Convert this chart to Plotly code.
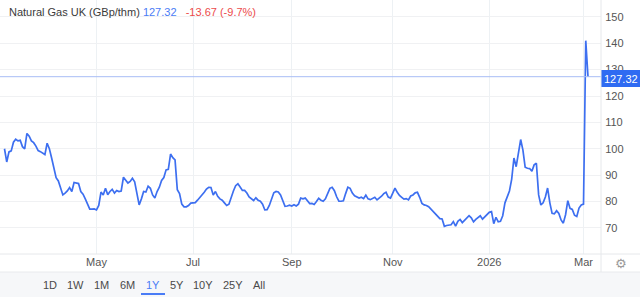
import pandas as pd
import plotly.graph_objects as go

# ---------------- data ----------------
prices = [
    100.0, 95.0, 98.8, 99.2, 102.5, 103.6, 103.0, 103.2, 100.8, 100.0,
    105.8, 104.8, 103.0, 102.3, 101.0, 99.3, 98.9, 98.5, 97.8, 102.1,
    100.0, 96.5, 92.0, 89.0, 87.8, 85.5, 82.5, 83.2, 84.0, 85.3,
    83.8, 87.2, 87.0, 86.8, 83.8, 82.8, 81.0, 78.8, 77.1, 77.1,
    77.2, 76.8, 78.5, 83.6, 82.5, 85.0, 82.6, 83.8, 84.6, 83.2,
    84.2, 83.8, 84.0, 89.2, 88.0, 87.0, 87.6, 88.8, 87.5, 83.0,
    78.7, 81.0, 83.8, 83.6, 85.8, 85.0, 82.5, 81.3, 83.8, 85.4,
    88.0, 89.1, 92.0, 92.2, 98.0, 96.6, 95.8, 84.5, 83.0, 79.0,
    78.0, 78.0, 78.5, 79.4, 79.5, 79.6, 80.5, 81.5, 82.1, 83.5,
    84.7, 85.4, 85.3, 82.5, 83.8, 82.0, 81.0, 80.5, 79.5, 78.5,
    79.0, 81.8, 84.0, 86.0, 86.7, 85.5, 84.2, 84.2, 83.2, 81.7,
    81.1, 80.4, 81.4, 80.5, 80.1, 79.0, 76.8, 76.9, 78.5, 81.0,
    83.3, 83.8, 83.6, 82.5, 80.3, 78.2, 78.3, 78.6, 78.3, 78.8,
    78.3, 79.0, 81.3, 81.0, 81.3, 80.3, 79.2, 79.3, 78.9, 80.0,
    81.2, 80.5, 80.1, 81.0, 83.0, 85.0, 85.4, 84.1, 81.8, 80.1,
    80.1, 80.3, 83.0, 85.4, 85.0, 83.2, 82.2, 81.6, 81.3, 81.6,
    81.1, 82.4, 81.0, 80.7, 81.1, 81.6, 80.6, 81.2, 82.0, 83.0,
    83.5, 81.7, 81.3, 83.2, 85.1, 83.5, 82.3, 81.6, 80.9, 81.1,
    80.6, 82.1, 82.5, 83.3, 83.5, 81.6, 79.3, 78.7, 78.5, 78.0,
    77.1, 76.3, 75.2, 74.1, 73.5, 73.4, 70.6, 70.9, 71.2, 71.2,
    72.4, 70.7, 72.5, 73.2, 72.0, 72.8, 73.5, 74.6, 73.8, 72.3,
    73.2, 74.0, 74.6, 73.3, 74.1, 75.2, 75.9, 76.2, 71.6, 74.0,
    72.3, 72.5, 74.6, 79.5, 82.2, 84.0, 88.5, 96.5, 93.2, 97.8,
    103.5, 99.5, 93.0, 92.6, 92.5, 91.5, 93.9, 94.5, 82.5, 78.7,
    79.5, 81.7, 85.1, 79.5, 75.5, 75.3, 76.5, 75.5, 73.0, 71.8,
    75.0, 80.3, 77.4, 77.0, 74.8, 74.3, 77.5, 78.7, 79.0, 140.99,
    127.32,
]
start_date = "2025-03-05"
dates = pd.bdate_range(start=start_date, periods=len(prices))

x_tick_vals = ["2025-05-01", "2025-07-01", "2025-09-01", "2025-11-03", "2026-01-01", "2026-03-02"]
x_tick_text = ["May", "Jul", "Sep", "Nov", "2026", "Mar"]
y_tick_vals = [70, 80, 90, 100, 110, 120, 130, 140, 150]
range_buttons = ["1D", "1W", "1M", "6M", "1Y", "5Y", "10Y", "25Y", "All"]
active_button = "1Y"
title_text = "Natural Gas UK (GBp/thm)"

last = prices[-1]
chg = last - prices[-2]
pct = chg / prices[-2] * 100

# ---------------- style ----------------
W, H = 640, 297
ML, MR, MT, MB = 0, 39, 0, 43
PW, PH = W - ML - MR, H - MT - MB
BLUE = "#3d6ff0"
FONT = "Liberation Sans, Arial, sans-serif"


def px(xp):
    return (xp - ML) / PW


def py(yp):
    return (H - MB - yp) / PH


fig = go.Figure()
fig.add_trace(go.Scatter(
    x=dates, y=prices, mode="lines",
    line=dict(color=BLUE, width=1.7), hoverinfo="skip",
))

shapes = []
# last price line
shapes.append(dict(type="line", xref="paper", yref="y", x0=0, x1=1, y0=last, y1=last,
                   line=dict(color="#a8bdf5", width=1)))
# price label box
shapes.append(dict(type="rect", xref="paper", yref="paper", x0=1, x1=px(W),
                   y0=py(87), y1=py(70), fillcolor="#2f6bf2", line=dict(width=0)))
# bottom band
shapes.append(dict(type="rect", xref="paper", yref="paper", x0=px(0), x1=px(W),
                   y0=py(H), y1=py(272), fillcolor="#f6f7f9", line=dict(width=0), layer="below"))
shapes.append(dict(type="line", xref="paper", yref="paper", x0=px(0), x1=px(W),
                   y0=py(272), y1=py(272), line=dict(color="#e8eaed", width=1)))
# x axis line
shapes.append(dict(type="line", xref="paper", yref="paper", x0=px(0), x1=px(W),
                   y0=0, y1=0, line=dict(color="#e6e8eb", width=1)))
# right separator
shapes.append(dict(type="line", xref="paper", yref="paper", x0=1, x1=1,
                   y0=py(272), y1=1, line=dict(color="#e6e8eb", width=1)))
# active button underline
shapes.append(dict(type="line", xref="paper", yref="paper", x0=px(141), x1=px(165),
                   y0=py(294), y1=py(294), line=dict(color="#4a7cf6", width=2)))

annotations = []
annotations.append(dict(
    xref="paper", yref="paper", x=px(7), y=py(12), xanchor="left", yanchor="middle",
    showarrow=False, font=dict(family=FONT, size=11, color="#3a3a3a"),
    text=(f"{title_text} <span style='color:#4a7cf6'>{last:.2f}</span>"
          f"   <span style='color:#ec4b4b'>{chg:.2f} ({pct:.1f}%)</span>"),
))
annotations.append(dict(
    xref="paper", yref="paper", x=(1 + px(W)) / 2, y=py(78.5), xanchor="center", yanchor="middle",
    showarrow=False, font=dict(family=FONT, size=11, color="white"), text=f"{last:.2f}",
))
annotations.append(dict(
    xref="paper", yref="paper", x=px(621), y=py(263), xanchor="center", yanchor="middle",
    showarrow=False, font=dict(family="DejaVu Sans", size=13, color="#9a9a9a"), text="\u2699",
))
button_x = [50, 75, 102, 127, 153, 177, 203, 233, 259]
for bx, lab in zip(button_x, range_buttons):
    annotations.append(dict(
        xref="paper", yref="paper", x=px(bx), y=py(285), xanchor="center", yanchor="middle",
        showarrow=False,
        font=dict(family=FONT, size=11, color="#4a7cf6" if lab == active_button else "#4a4a4a"),
        text=lab,
    ))

fig.update_layout(
    width=W, height=H,
    margin=dict(l=ML, r=MR, t=MT, b=MB, pad=0),
    paper_bgcolor="white", plot_bgcolor="white",
    showlegend=False,
    font=dict(family=FONT, size=11, color="#555555"),
    shapes=shapes, annotations=annotations,
    hovermode=False,
)
fig.update_xaxes(
    type="date",
    range=["2025-03-03", "2026-03-11 19:00"],
    rangebreaks=[dict(bounds=["sat", "mon"])],
    tickvals=x_tick_vals, ticktext=x_tick_text,
    showgrid=True, gridcolor="#edf1f4", gridwidth=1,
    showline=False, zeroline=False, ticks="",
    tickfont=dict(family=FONT, size=11, color="#555555"),
    fixedrange=True,
)
fig.update_yaxes(
    side="right", range=[60.1, 156.4],
    tickvals=y_tick_vals,
    showgrid=True, gridcolor="#f0f1f3", gridwidth=1,
    showline=False, zeroline=False, ticks="outside", ticklen=1, tickcolor="rgba(0,0,0,0)",
    tickfont=dict(family=FONT, size=11, color="#555555"),
    fixedrange=True,
)

fig.write_html("out.html", config={"displayModeBar": False})
